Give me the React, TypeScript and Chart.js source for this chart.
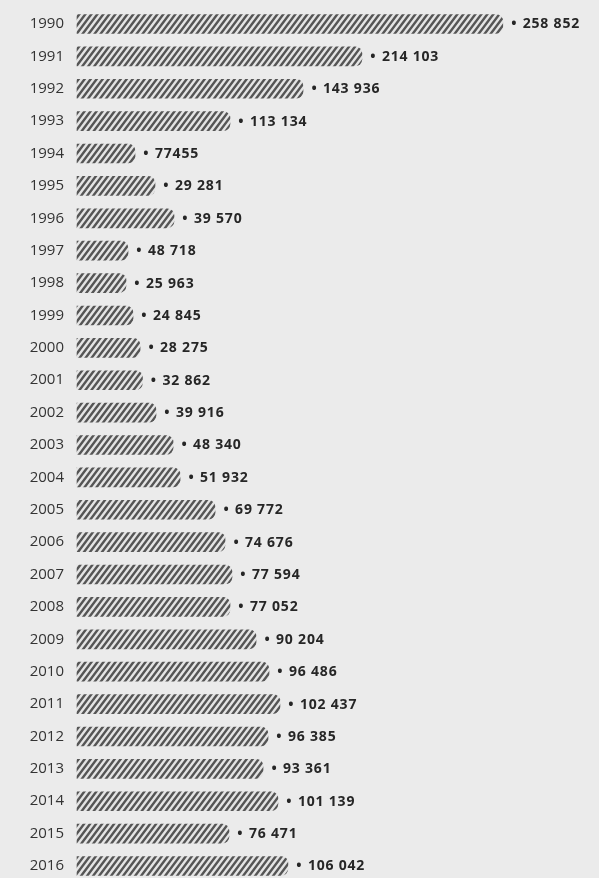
import React, { useEffect, useRef } from "react";
import { Chart, registerables } from "chart.js";

Chart.register(...registerables);

// Years (categories)
const years = [
  "1990", "1991", "1992", "1993", "1994", "1995", "1996", "1997", "1998",
  "1999", "2000", "2001", "2002", "2003", "2004", "2005", "2006", "2007",
  "2008", "2009", "2010", "2011", "2012", "2013", "2014", "2015", "2016",
];

// Bar lengths as drawn in the picture (same units as the labels)
const barValues = [
  214000, 143200, 113600, 76900, 29150, 39200, 48750, 25630, 24630,
  28150, 31700, 32900, 39700, 48300, 51800, 69400, 74400, 77900,
  76900, 90000, 96500, 102000, 96000, 93500, 101000, 76400, 106000,
];

// Printed value labels
const valueLabels = [
  "258 852", "214 103", "143 936", "113 134", "77455", "29 281", "39 570", "48 718", "25 963",
  "24 845", "28 275", "32 862", "39 916", "48 340", "51 932", "69 772", "74 676", "77 594",
  "77 052", "90 204", "96 486", "102 437", "96 385", "93 361", "101 139", "76 471", "106 042",
];

const axisMax = 258852;

function makeHatch(): CanvasPattern | string {
  const w = 6;
  const h = 8;
  const pc = document.createElement("canvas");
  pc.width = w;
  pc.height = h;
  const c = pc.getContext("2d");
  if (!c) return "#777";
  c.fillStyle = "#e4e4e4";
  c.fillRect(0, 0, w, h);
  c.strokeStyle = "#555555";
  c.lineWidth = 2.4;
  c.lineCap = "square";
  for (let k = -1; k <= 1; k++) {
    c.beginPath();
    c.moveTo(k * w - w, 2 * h);
    c.lineTo(k * w + 2 * w, -h);
    c.stroke();
  }
  const p = c.createPattern(pc, "repeat");
  return p || "#777";
}

const valueLabelPlugin = {
  id: "valueLabels",
  afterDatasetsDraw(chart: any) {
    const ctx = chart.ctx as CanvasRenderingContext2D;
    const meta = chart.getDatasetMeta(0);
    ctx.save();
    ctx.fillStyle = "#262626";
    ctx.textBaseline = "middle";
    meta.data.forEach((bar: any, i: number) => {
      const x = bar.x;
      const y = bar.y;
      ctx.font = 'bold 14px "Open Sans"';
      ctx.textAlign = "center";
      (ctx as any).letterSpacing = "0px";
      ctx.fillText("•", x + 11, y + 0.5);
      ctx.textAlign = "left";
      (ctx as any).letterSpacing = "0.8px";
      ctx.fillText(valueLabels[i], x + 20, y + 0.5);
    });
    (ctx as any).letterSpacing = "0px";
    ctx.restore();
  },
};

export default function App() {
  const canvasRef = useRef<HTMLCanvasElement | null>(null);

  useEffect(() => {
    const canvas = canvasRef.current;
    if (!canvas) return;
    const hatch = makeHatch();
    const chart = new Chart(canvas, {
      type: "bar",
      data: {
        labels: years,
        datasets: [
          {
            data: barValues,
            backgroundColor: hatch as any,
            borderWidth: 0,
            barThickness: 19,
            borderRadius: { topLeft: 0, bottomLeft: 0, topRight: 7, bottomRight: 7 },
            borderSkipped: false,
            clip: false as any,
          },
        ],
      },
      options: {
        indexAxis: "y",
        animation: false,
        responsive: true,
        maintainAspectRatio: false,
        layout: { padding: { top: 24, bottom: 12, left: 0, right: 7 } },
        plugins: {
          legend: { display: false },
          tooltip: { enabled: false },
        },
        scales: {
          x: {
            type: "linear",
            min: 0,
            max: axisMax,
            display: false,
          },
          y: {
            type: "category",
            offset: false,
            grid: { display: false, drawTicks: false },
            border: { display: false },
            ticks: {
              autoSkip: false,
              padding: 13,
              color: "#333333",
              font: { family: '"Open Sans"', size: 15, weight: "500" },
            },
            afterFit(scale: any) {
              scale.width = 77;
              scale.paddingTop = 0;
              scale.paddingBottom = 0;
            },
          },
        },
      },
      plugins: [valueLabelPlugin],
    });
    return () => chart.destroy();
  }, []);

  return (
    <div
      style={{
        position: "fixed",
        left: 0,
        top: 0,
        width: 599,
        height: 878,
        background: "#ebebeb",
      }}
    >
      <canvas ref={canvasRef} />
    </div>
  );
}
